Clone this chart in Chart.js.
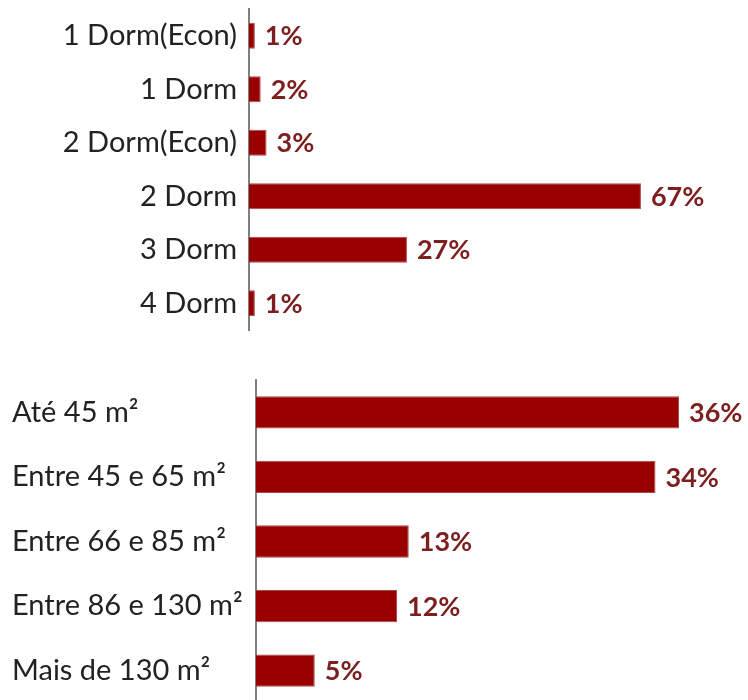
<!DOCTYPE html>
<html>
<head>
<meta charset="utf-8">
<script src="https://cdn.jsdelivr.net/npm/chart.js@4"></script>
<style>
  html, body { margin: 0; padding: 0; background: #fff; overflow: hidden; }
  #wrap { position: relative; width: 748px; height: 700px; overflow: hidden; }
  canvas { position: absolute; left: 0; }
  #dormChart { top: 0; }
  #areaChart { top: 370px; }
</style>
</head>
<body>
<div id="wrap">
  <canvas id="dormChart" width="748" height="340"></canvas>
  <canvas id="areaChart" width="748" height="333"></canvas>
</div>
<script>
// ---- dados ----
const dormLabels = ['1 Dorm(Econ)', '1 Dorm', '2 Dorm(Econ)', '2 Dorm', '3 Dorm', '4 Dorm'];
const dormValues = [1, 2, 3, 67, 27, 1];

const areaLabels = ['Até 45 m²', 'Entre 45 e 65 m²', 'Entre 66 e 85 m²', 'Entre 86 e 130 m²', 'Mais de 130 m²'];
const areaValues = [36, 34, 13, 12, 5];

const BAR_COLOR   = '#990000';
const VALUE_COLOR = '#7d1f1f';
const FONT        = 'Lato, "Open Sans", sans-serif';

// rótulos de valor no fim de cada barra
const valueLabels = {
    id: 'valueLabels',
    afterDatasetsDraw(chart) {
        const ctx = chart.ctx;
        const meta = chart.getDatasetMeta(0);
        ctx.save();
        ctx.font = 'bold 27px ' + FONT;
        ctx.fillStyle = VALUE_COLOR;
        ctx.textAlign = 'left';
        ctx.textBaseline = 'middle';
        meta.data.forEach((bar, i) => {
            ctx.fillText(chart.data.datasets[0].data[i] + '%', bar.x + 10, bar.y + 1);
        });
        ctx.restore();
    }
};

function makeChart(id, labels, values, opts) {
    return new Chart(document.getElementById(id), {
        type: 'bar',
        data: {
            labels,
            datasets: [{
                data: values,
                backgroundColor: BAR_COLOR,
                borderColor: '#a84a4a',
                borderWidth: 1,
                borderSkipped: 'left',
                barPercentage: opts.barPct,
                categoryPercentage: 1
            }]
        },
        options: {
            indexAxis: 'y',
            responsive: false,
            animation: false,
            devicePixelRatio: 1,
            layout: { padding: opts.padding },
            plugins: { legend: { display: false }, tooltip: { enabled: false } },
            scales: {
                x: { display: false, min: 0, max: opts.max },
                y: {
                    grid: { display: false, drawTicks: false },
                    border: { display: true, color: '#808080', width: 2 },
                    ticks: {
                        color: '#222',
                        font: { family: FONT, size: 29 },
                        padding: 12,
                        crossAlign: opts.crossAlign
                    },
                    afterFit(scale) {
                        scale.width = opts.axisWidth;
                        scale.paddingTop = 0;
                        scale.paddingBottom = 0;
                    }
                }
            }
        },
        plugins: [valueLabels]
    });
}

makeChart('dormChart', dormLabels, dormValues, {
    max: 80, barPct: 0.49, crossAlign: 'near', axisWidth: 249,
    padding: { top: 9, bottom: 10, left: 0, right: 31 }
});

makeChart('areaChart', areaLabels, areaValues, {
    max: 40, barPct: 0.5, crossAlign: 'far', axisWidth: 244,
    padding: { top: 10, bottom: 0, left: 12, right: 22 }
});
</script>
</body>
</html>
